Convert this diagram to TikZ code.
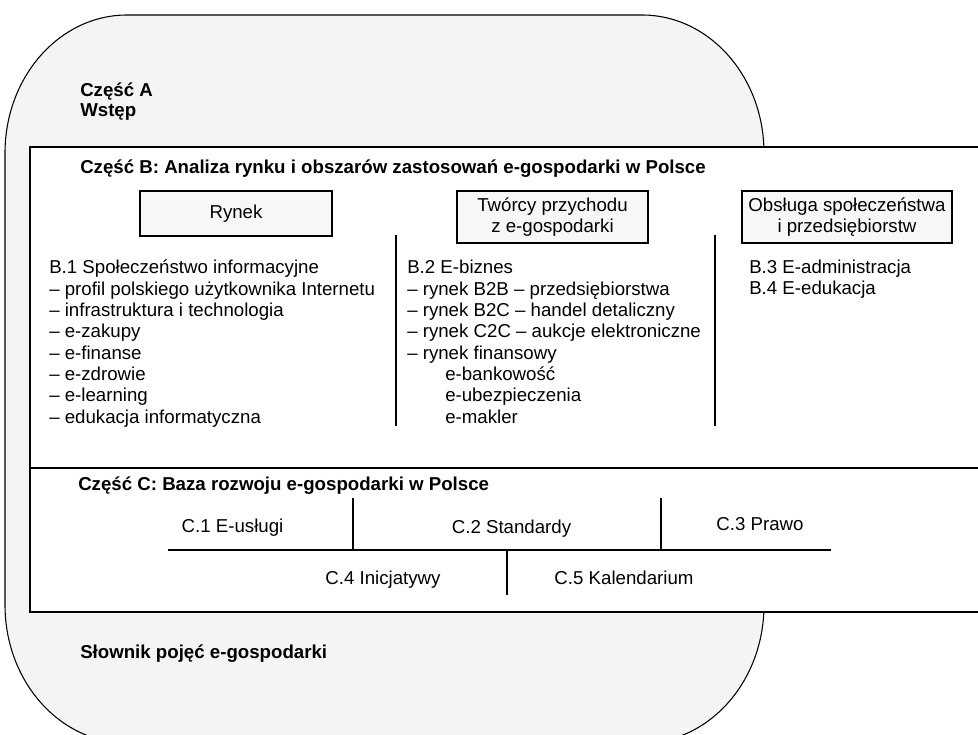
\documentclass[tikz,border=0pt]{standalone}
\usepackage{fontspec}
\setmainfont{Liberation Sans}
\usepackage{tikz}
\usetikzlibrary{positioning}

\begin{document}
\begin{tikzpicture}[
    x=0.75pt, y=-0.75pt,
    font=\fontsize{14}{16}\selectfont,
    head/.style={font=\fontsize{14}{15}\selectfont\bfseries, anchor=base west, inner sep=0pt, align=left},
    lbox/.style={draw, fill=gray!6, line width=0.9pt, align=center, inner sep=0pt},
    list/.style={anchor=base west, inner sep=0pt, align=left},
    part/.style={anchor=base, inner sep=0pt},
    sep/.style={line width=0.9pt},
  ]
    \useasboundingbox (0,0) rectangle (978,735);
    \clip (0,0) rectangle (978,735);

    % gray frame
    \draw[fill=gray!9, line width=0.8pt] (5,153)
      arc[start angle=180, end angle=90, x radius=91.5pt, y radius=103.5pt] -- (642,15)
      arc[start angle=90, end angle=0, x radius=91.5pt, y radius=103.5pt] -- (764,605)
      arc[start angle=0, end angle=-90, x radius=91.5pt, y radius=103.5pt] -- (127,743)
      arc[start angle=270, end angle=180, x radius=91.5pt, y radius=103.5pt] -- cycle;

    % white box with parts B and C
    \fill[white] (30,147) rectangle (990,612);
    \draw[line width=1.1pt] (990,147) -- (30,147) -- (30,612) -- (990,612);
    \draw[line width=1.1pt] (30,468) -- (990,468);

    % base anchor of a multi-line node sits on its last line
    \node[head] (partA) at (80,117) {Część A\\Wstęp};
    \node[head] (partB) at (80,173) {Część B: Analiza rynku i obszarów zastosowań e-gospodarki w Polsce};
    \node[head] (partC) at (78,490) {Część C: Baza rozwoju e-gospodarki w Polsce};
    \node[head] (dict) at (80,658) {Słownik pojęć e-gospodarki};

    % part B
    \node[lbox, minimum width=144pt, minimum height=33.75pt] (rynek) at (236,213.5) {Rynek};
    \node[lbox, minimum width=143.25pt, minimum height=39pt, font=\fontsize{14}{15.5}\selectfont] (tworcy) at (552.5,217) {Twórcy przychodu\\z e-gospodarki};
    \node[lbox, minimum width=157.5pt, minimum height=39pt, font=\fontsize{14}{15.5}\selectfont] (obsluga) at (847,217) {Obsługa społeczeństwa\\i przedsiębiorstw};

    \node[list] (b1) at (49,423) {B.1 Społeczeństwo informacyjne\\
      – profil polskiego użytkownika Internetu\\
      – infrastruktura i technologia\\
      – e-zakupy\\
      – e-finanse\\
      – e-zdrowie\\
      – e-learning\\
      – edukacja informatyczna};
    \node[list] (b2) at (407,423) {B.2 E-biznes\\
      – rynek B2B – przedsiębiorstwa\\
      – rynek B2C – handel detaliczny\\
      – rynek C2C – aukcje elektroniczne\\
      – rynek finansowy\\
      \hspace*{28.5pt}e-bankowość\\
      \hspace*{28.5pt}e-ubezpieczenia\\
      \hspace*{28.5pt}e-makler};
    \node[list] (b3) at (749,294.6) {B.3 E-administracja\\B.4 E-edukacja};

    \draw[sep] (396,235) -- (396,426);
    \draw[sep] (715,235) -- (715,426);

    % part C
    \node[part] (c1) at (232.5,532.7) {C.1 E-usługi};
    \node[part] (c2) at (511.5,533) {C.2 Standardy};
    \node[part] (c3) at (760,530) {C.3 Prawo};
    \node[part] (c4) at (383,584) {C.4 Inicjatywy};
    \node[part] (c5) at (624,584) {C.5 Kalendarium};

    \coordinate (hl) at (168,550);
    \coordinate (hr) at (831,550);
    \draw[sep] (hl) -- (hr);
    \draw[sep] (353,498) -- (353,550);
    \draw[sep] (661,498) -- (661,550);
    \draw[sep] (507,550) -- (507,595);
  \end{tikzpicture}
\end{document}
